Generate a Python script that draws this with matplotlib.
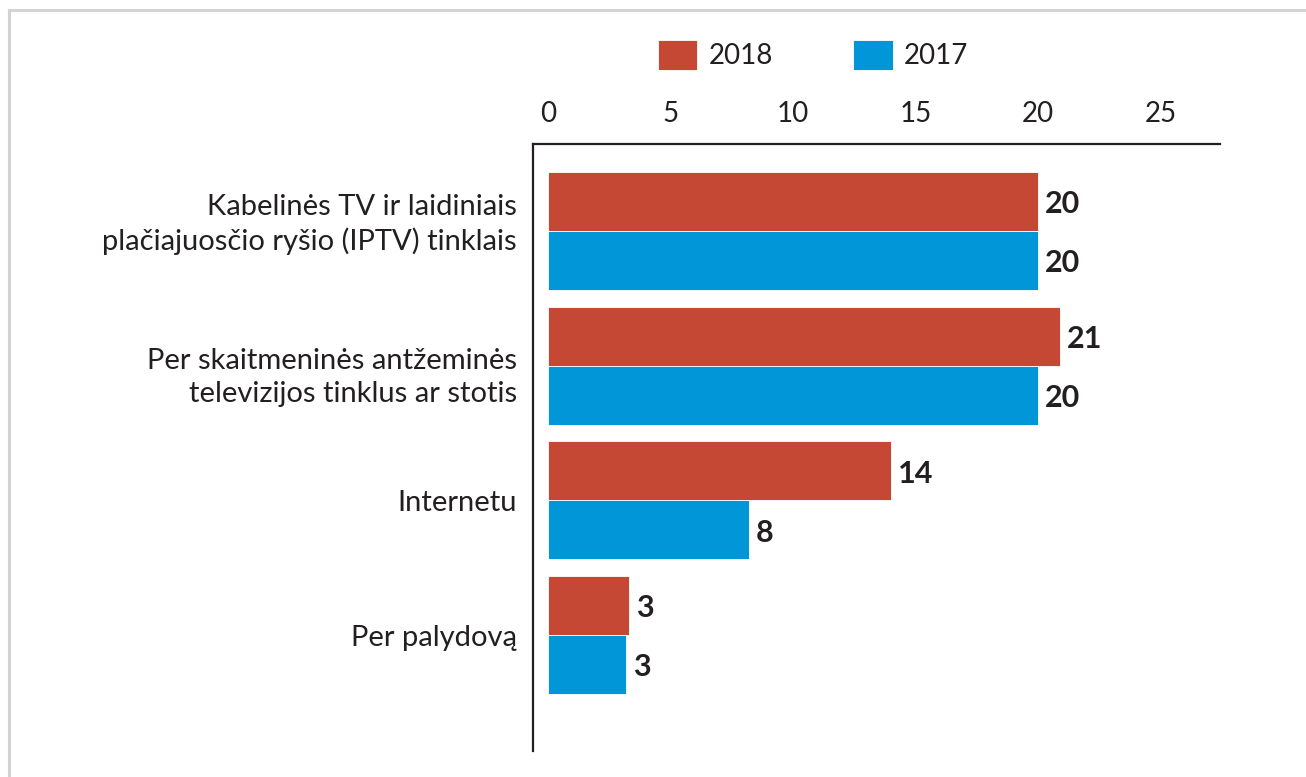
import matplotlib
matplotlib.use("Agg")
import matplotlib.pyplot as plt
from matplotlib.lines import Line2D
from matplotlib.transforms import ScaledTranslation
import numpy as np

categories = [
    "Kabelinės TV ir laidiniais\nplačiajuosčio ryšio (IPTV) tinklais",
    "Per skaitmeninės antžeminės\ntelevizijos tinklus ar stotis",
    "Internetu",
    "Per palydovą",
]
series_names = ["2018", "2017"]
values_2018 = [20.0, 20.9, 14.0, 3.3]
values_2017 = [20.0, 20.0, 8.2, 3.2]
labels_2018 = ["20", "21", "14", "3"]
labels_2017 = ["20", "20", "8", "3"]
xticks = [0, 5, 10, 15, 20, 25]

RED = "#C54835"
BLUE = "#0096D7"
TEXT = "#231F20"

plt.rcParams['font.family'] = ['Lato', 'DejaVu Sans']

fig = plt.figure(figsize=(13.06, 7.77), dpi=100)
ax = fig.add_axes([533/1306, 1-751/777, (1220-533)/1306, (751-143.5)/777])

y = np.arange(len(categories))
h = 0.438
b1 = ax.barh(y - h/2, values_2018, height=h, color=RED, edgecolor="white", linewidth=0.6, label=series_names[0])
b2 = ax.barh(y + h/2, values_2017, height=h, color=BLUE, edgecolor="white", linewidth=0.6, label=series_names[1])

for rects, labs in ((b1, labels_2018), (b2, labels_2017)):
    for r, lab in zip(rects, labs):
        ax.annotate(lab, (r.get_width(), r.get_y() + r.get_height()/2),
                    xytext=(5, -2), textcoords="offset points",
                    ha="left", va="center", fontsize=22, fontweight="bold", color=TEXT)

ax.set_xlim(-0.61, 27.43)
ax.set_ylim(len(categories) - 1 + 0.86, -0.65)
ax.xaxis.tick_top()
ax.set_xticks(xticks)
ax.set_xticklabels([str(t) for t in xticks])
ax.set_yticks(y)
ax.set_yticklabels(categories, linespacing=1.32)
ax.tick_params(axis="x", length=0, pad=12, labelsize=20, labelcolor=TEXT)
ax.tick_params(axis="y", length=0, pad=11.5, labelsize=21, labelcolor=TEXT)
shifts_px = [13, -6, 0, 0]
for t, s in zip(ax.get_yticklabels(), shifts_px):
    t.set_horizontalalignment("right")
    t.set_multialignment("right")
    t.set_transform(t.get_transform() + ScaledTranslation(0, s/100, fig.dpi_scale_trans))

for s in ("right", "bottom"):
    ax.spines[s].set_visible(False)
for s in ("left", "top"):
    ax.spines[s].set_color(TEXT)
    ax.spines[s].set_linewidth(1.6)

leg = fig.legend(handles=[b1, b2], labels=series_names, loc="center",
                 bbox_to_anchor=(813/1306, 1-55/777), ncol=2, frameon=False,
                 fontsize=20, handlelength=1.43, handleheight=1.32,
                 handletextpad=0.4, columnspacing=2.9, labelcolor=TEXT)

# light frame around the figure
fig.add_artist(Line2D([9/1306, 1], [1-10/777, 1-10/777], color="#D3D3D3", linewidth=2.2, transform=fig.transFigure))
fig.add_artist(Line2D([9/1306, 9/1306], [0, 1-10/777], color="#D3D3D3", linewidth=2.2, transform=fig.transFigure))

fig.savefig("out.png", dpi=100, facecolor="white")
